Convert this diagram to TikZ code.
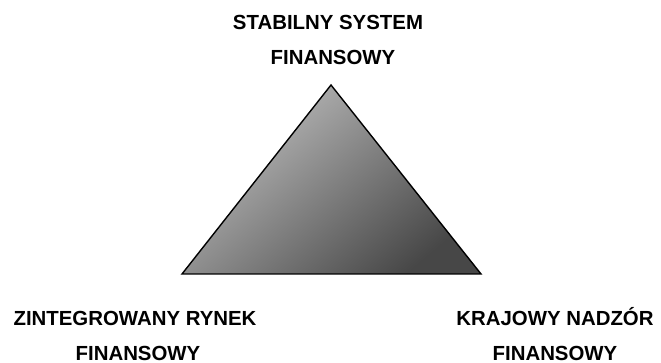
\documentclass[tikz,border=0pt]{standalone}
\usepackage{fontspec}
\setmainfont{Liberation Sans}
\begin{document}
\begin{tikzpicture}[x=1pt,y=-1pt,
  lbl/.style={font=\bfseries\fontsize{20.4}{24}\selectfont, inner sep=0pt, anchor=base}]
\useasboundingbox (0,0) rectangle (661,363);
\coordinate (apex) at (331,85);
\coordinate (bl) at (182,274);
\coordinate (br) at (481,274);
\shade[top color=black!25, bottom color=black!72, shading angle=40]
  (apex) -- (bl) -- (br) -- cycle;
\draw[line width=1.4pt, line join=miter] (apex) -- (bl) -- (br) -- cycle;
\node[lbl] (t1) at (328,30) {STABILNY SYSTEM};
\node[lbl] (t2) at (333,65) {FINANSOWY};
\node[lbl] (l1) at (135,325) {ZINTEGROWANY RYNEK};
\node[lbl] (l2) at (138,360.5) {FINANSOWY};
\node[lbl] (r1) at (555,325) {KRAJOWY NADZÓR};
\node[lbl] (r2) at (555,360.5) {FINANSOWY};
\end{tikzpicture}
\end{document}
